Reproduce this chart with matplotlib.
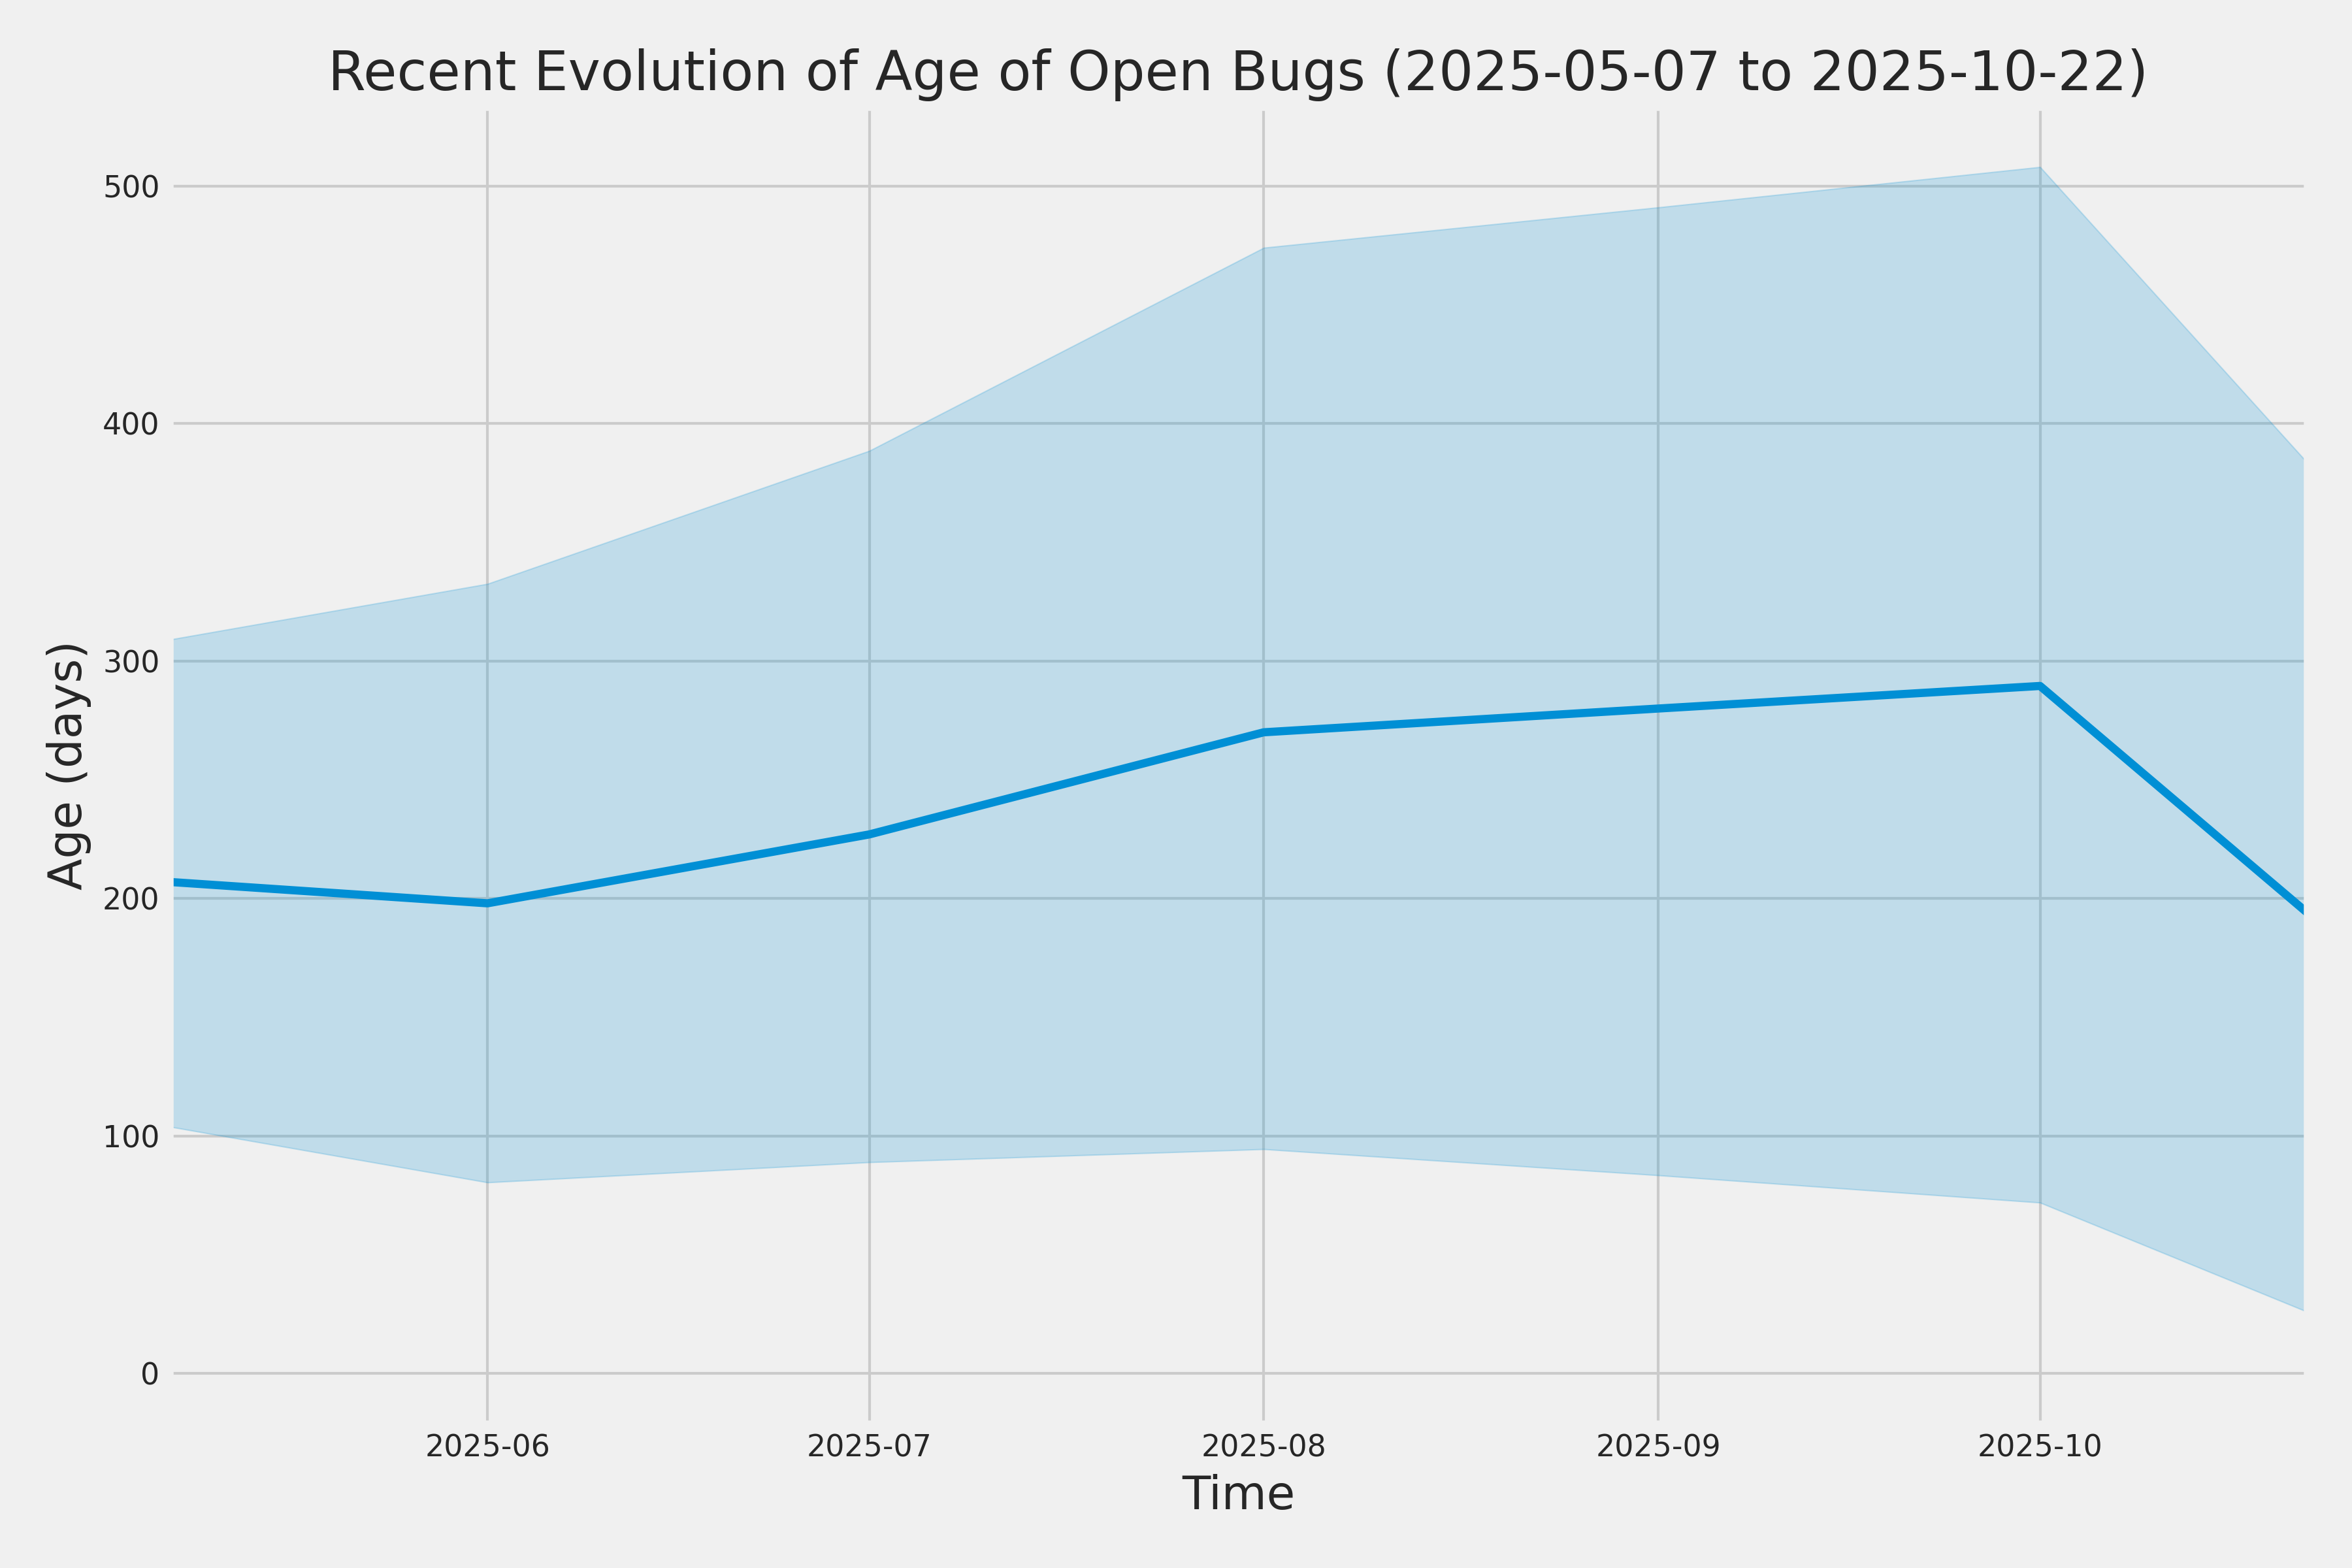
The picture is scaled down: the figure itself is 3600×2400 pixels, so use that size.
import matplotlib
matplotlib.use("Agg")
import matplotlib.pyplot as plt
import matplotlib.dates as mdates
import pandas as pd

# Age of open bugs, monthly snapshots
dates = pd.to_datetime(["2025-05-07", "2025-06-01", "2025-07-01", "2025-08-01",
                        "2025-09-01", "2025-10-01", "2025-10-22"])
mean_age = [207, 198, 227, 270, 280, 289.5, 194]
upper_age = [309, 332.5, 388.5, 474, 491, 508, 383.5]
lower_age = [104, 80.5, 89, 94.5, 83.5, 72, 26]

plt.style.use("fivethirtyeight")
plt.rcParams["text.color"] = "#262626"
plt.rcParams["axes.labelcolor"] = "#262626"
plt.rcParams["xtick.color"] = "#262626"
plt.rcParams["ytick.color"] = "#262626"

fig, ax = plt.subplots(figsize=(12, 8), dpi=300)
ax.fill_between(dates, lower_age, upper_age, color="#008fd5", alpha=0.2)
ax.plot(dates, mean_age, color="#008fd5", linewidth=3)

ax.set_xlim(dates[0], dates[-1])
ax.set_ylim(-21.3, 533.4)
ax.xaxis.set_major_locator(mdates.MonthLocator())
ax.xaxis.set_major_formatter(mdates.DateFormatter("%Y-%m"))
ax.tick_params(labelsize=11)

ax.set_title("Recent Evolution of Age of Open Bugs (2025-05-07 to 2025-10-22)", fontsize=20)
ax.set_xlabel("Time", fontsize=17)
ax.set_ylabel("Age (days)", fontsize=17)

fig.subplots_adjust(left=0.072, right=0.981, bottom=0.0917, top=0.932)
plt.savefig("out.png", dpi=300)
